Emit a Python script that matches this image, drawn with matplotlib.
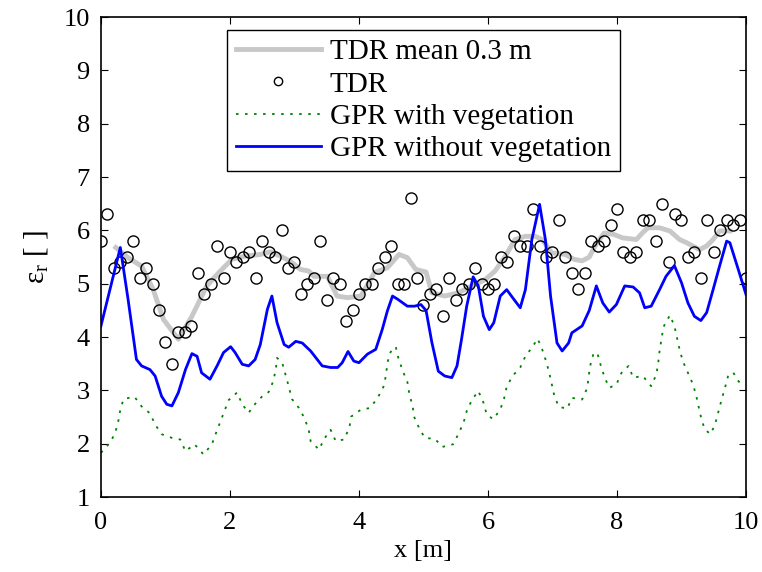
"""
Relative permittivity along the profile: TDR vs GPR
"""

import matplotlib
matplotlib.use('Agg')
import matplotlib.pyplot as plt
import numpy as np

plt.rcParams['font.family'] = ['Liberation Serif', 'DejaVu Serif']
plt.rcParams['mathtext.fontset'] = 'stix'

# TDR point measurements, every 0.1 m
tdr_x = np.linspace(0, 10, 101)
tdr_eps = [5.8, 6.3, 5.3, 5.4, 5.5, 5.8, 5.1, 5.3, 5.0, 4.5,
           3.9, 3.5, 4.1, 4.1, 4.2, 5.2, 4.8, 5.0, 5.7, 5.1,
           5.6, 5.4, 5.5, 5.6, 5.1, 5.8, 5.6, 5.5, 6.0, 5.3,
           5.4, 4.8, 5.0, 5.1, 5.8, 4.7, 5.1, 5.0, 4.3, 4.5,
           4.8, 5.0, 5.0, 5.3, 5.5, 5.7, 5.0, 5.0, 6.6, 5.1,
           4.6, 4.8, 4.9, 4.4, 5.1, 4.7, 4.9, 5.0, 5.3, 5.0,
           4.9, 5.0, 5.5, 5.4, 5.9, 5.7, 5.7, 6.4, 5.7, 5.5,
           5.6, 6.2, 5.5, 5.2, 4.9, 5.2, 5.8, 5.7, 5.8, 6.1,
           6.4, 5.6, 5.5, 5.6, 6.2, 6.2, 5.8, 6.5, 5.4, 6.3,
           6.2, 5.5, 5.6, 5.1, 6.2, 5.6, 6.0, 6.2, 6.1, 6.2,
           5.1]

# TDR mean over 0.3 m
mean_x = [0.23, 0.42, 0.63, 0.81, 0.97, 1.2, 1.41, 1.64, 1.82, 2.03,
          2.24, 2.47, 2.63, 2.78, 2.94, 3.09, 3.22, 3.3, 3.51, 3.66,
          3.82, 4.03, 4.24, 4.44, 4.62, 4.75, 4.88, 5.04, 5.13, 5.33,
          5.54, 5.75, 5.96, 6.11, 6.27, 6.42, 6.58, 6.73, 6.84, 6.99,
          7.2, 7.33, 7.46, 7.57, 7.68, 7.8, 7.94, 8.09, 8.3, 8.4,
          8.48, 8.66, 8.82, 8.97, 9.08, 9.28, 9.39, 9.49, 9.59, 9.75]
mean_eps = [5.68, 5.49, 5.33, 4.89, 4.33, 3.96, 4.39, 4.96, 5.2, 5.46,
            5.52, 5.55, 5.6, 5.52, 5.42, 5.27, 5.24, 5.14, 5.14, 4.77,
            4.74, 4.77, 5.21, 5.3, 5.55, 5.49, 5.27, 5.22, 4.83, 4.77,
            4.83, 4.96, 5.08, 5.24, 5.52, 5.83, 5.89, 5.89, 5.83, 5.58,
            5.55, 5.46, 5.43, 5.5, 5.75, 5.95, 5.93, 5.86, 5.83, 5.96,
            6.05, 6.05, 5.99, 5.83, 5.77, 5.64, 5.71, 5.83, 5.99, 5.99]

# GPR with vegetation
veg_x = [0, 0.14, 0.22, 0.27, 0.3, 0.35, 0.52, 0.63, 0.76, 0.84,
         0.94, 1.1, 1.23, 1.31, 1.45, 1.59, 1.72, 1.78, 1.85, 1.92,
         1.98, 2.11, 2.19, 2.29, 2.37, 2.5, 2.6, 2.67, 2.71, 2.73,
         2.81, 2.86, 2.91, 2.96, 3.07, 3.15, 3.22, 3.25, 3.38, 3.46,
         3.56, 3.64, 3.77, 3.85, 3.88, 4.03, 4.17, 4.29, 4.38, 4.42,
         4.44, 4.49, 4.57, 4.61, 4.68, 4.75, 4.78, 4.83, 4.86, 4.93,
         5.02, 5.18, 5.29, 5.46, 5.54, 5.62, 5.67, 5.75, 5.85, 5.93,
         5.98, 6.08, 6.19, 6.25, 6.29, 6.38, 6.5, 6.58, 6.68, 6.77,
         6.84, 6.9, 6.95, 6.99, 7.03, 7.1, 7.23, 7.3, 7.46, 7.54,
         7.56, 7.59, 7.64, 7.7, 7.75, 7.81, 7.88, 7.99, 8.07, 8.18,
         8.25, 8.4, 8.53, 8.61, 8.64, 8.66, 8.69, 8.72, 8.82, 8.89,
         8.93, 8.97, 9.02, 9.1, 9.18, 9.23, 9.27, 9.31, 9.36, 9.45,
         9.52, 9.57, 9.62, 9.67, 9.72, 9.8, 9.89, 9.96]
veg_eps = [1.83, 2.02, 2.2, 2.43, 2.64, 2.84, 2.88, 2.7, 2.57, 2.36,
           2.18, 2.11, 2.08, 1.86, 1.99, 1.8, 1.99, 2.19, 2.41, 2.63,
           2.82, 2.96, 2.74, 2.58, 2.72, 2.89, 2.97, 3.17, 3.39, 3.61,
           3.52, 3.3, 3.08, 2.84, 2.67, 2.49, 2.27, 2.05, 1.89, 2.09,
           2.26, 2.05, 2.08, 2.3, 2.51, 2.64, 2.67, 2.86, 3.07, 3.29,
           3.52, 3.72, 3.82, 3.61, 3.36, 3.16, 2.94, 2.71, 2.49, 2.3,
           2.11, 2.09, 1.94, 1.99, 2.18, 2.39, 2.61, 2.82, 2.99, 2.77,
           2.55, 2.46, 2.64, 2.85, 3.07, 3.27, 3.43, 3.64, 3.8, 3.97,
           3.77, 3.55, 3.33, 3.11, 2.89, 2.69, 2.66, 2.86, 2.83, 3.05,
           3.27, 3.49, 3.71, 3.68, 3.46, 3.24, 3.05, 3.11, 3.33, 3.46,
           3.24, 3.27, 3.08, 3.3, 3.52, 3.74, 3.96, 4.19, 4.41, 4.21,
           3.99, 3.77, 3.55, 3.33, 3.11, 2.89, 2.67, 2.46, 2.27, 2.18,
           2.36, 2.59, 2.82, 3.03, 3.26, 3.34, 3.16, 3.27]

# GPR without vegetation
noveg_x = [0, 0.3, 0.42, 0.55, 0.63, 0.76, 0.84, 0.94, 1.02, 1.1,
           1.2, 1.31, 1.41, 1.49, 1.56, 1.69, 1.8, 1.9, 2.01, 2.08,
           2.19, 2.29, 2.39, 2.47, 2.58, 2.65, 2.73, 2.84, 2.91, 3.02,
           3.12, 3.25, 3.43, 3.56, 3.67, 3.74, 3.83, 3.92, 4.0, 4.13,
           4.26, 4.36, 4.44, 4.52, 4.6, 4.75, 4.86, 4.96, 5.04, 5.13,
           5.23, 5.33, 5.44, 5.52, 5.59, 5.67, 5.77, 5.85, 5.93, 6.02,
           6.09, 6.19, 6.29, 6.4, 6.5, 6.58, 6.68, 6.8, 6.89, 6.97,
           7.07, 7.15, 7.25, 7.3, 7.46, 7.57, 7.68, 7.78, 7.88, 7.99,
           8.12, 8.25, 8.35, 8.43, 8.53, 8.66, 8.76, 8.89, 9.0, 9.1,
           9.2, 9.3, 9.39, 9.49, 9.59, 9.7, 9.75, 9.88, 10.0]
noveg_eps = [4.21, 5.68, 4.71, 3.58, 3.46, 3.39, 3.27, 2.89, 2.74, 2.71,
             2.96, 3.39, 3.69, 3.64, 3.33, 3.21, 3.46, 3.71, 3.82, 3.71,
             3.49, 3.46, 3.58, 3.86, 4.52, 4.77, 4.27, 3.86, 3.81, 3.92,
             3.89, 3.74, 3.46, 3.43, 3.43, 3.52, 3.73, 3.55, 3.52, 3.68,
             3.77, 4.14, 4.49, 4.77, 4.71, 4.58, 4.58, 4.61, 4.5, 3.9,
             3.36, 3.27, 3.24, 3.46, 3.96, 4.58, 5.13, 4.96, 4.39, 4.14,
             4.27, 4.77, 4.89, 4.71, 4.55, 4.89, 5.83, 6.49, 5.83, 4.77,
             3.89, 3.74, 3.89, 4.08, 4.21, 4.5, 4.96, 4.64, 4.47, 4.61,
             4.96, 4.94, 4.83, 4.55, 4.58, 4.89, 5.14, 5.34, 5.02, 4.64,
             4.39, 4.31, 4.46, 4.89, 5.33, 5.8, 5.77, 5.27, 4.8]

fig = plt.figure(figsize=(7.62, 5.72), dpi=100)
ax = fig.add_axes([0.1325, 0.131, 0.8465, 0.839])

ax.plot(mean_x, mean_eps, color='#c8c8c8', lw=3.5, label='TDR mean 0.3 m')
ax.plot(tdr_x, tdr_eps, 'o', mfc='none', mec='black', ms=8, mew=1.0, label='TDR')
ax.plot(veg_x, veg_eps, color='#008000', lw=1.3, dashes=(1.4, 3.6),
        label='GPR with vegetation')
ax.plot(noveg_x, noveg_eps, '-', color='blue', lw=2, label='GPR without vegetation')

ax.set_xlim(0, 10)
ax.set_ylim(1, 10)
ax.set_xticks(range(0, 11, 2))
ax.set_yticks(range(1, 11))
ax.tick_params(direction='in', top=True, right=True, length=5, labelsize=19)
ax.tick_params(axis='x', pad=11)
ax.tick_params(axis='y', pad=8)
for s in ax.spines.values():
    s.set_linewidth(1.2)

ax.set_xlabel('x [m]', fontsize=19, labelpad=4)
ax.set_ylabel(r'$\mathregular{ε_r}$ [ ]', fontsize=21, labelpad=10)

leg = ax.legend(loc='upper center', bbox_to_anchor=(0.5, 0.973), fontsize=21,
                frameon=True, fancybox=False, edgecolor='black', framealpha=1,
                handlelength=2.9, labelspacing=0.2, borderpad=0.3, handletextpad=0.3,
                borderaxespad=0, markerscale=0.75)
leg.get_frame().set_linewidth(1.0)

plt.savefig('out.png', dpi=100)
